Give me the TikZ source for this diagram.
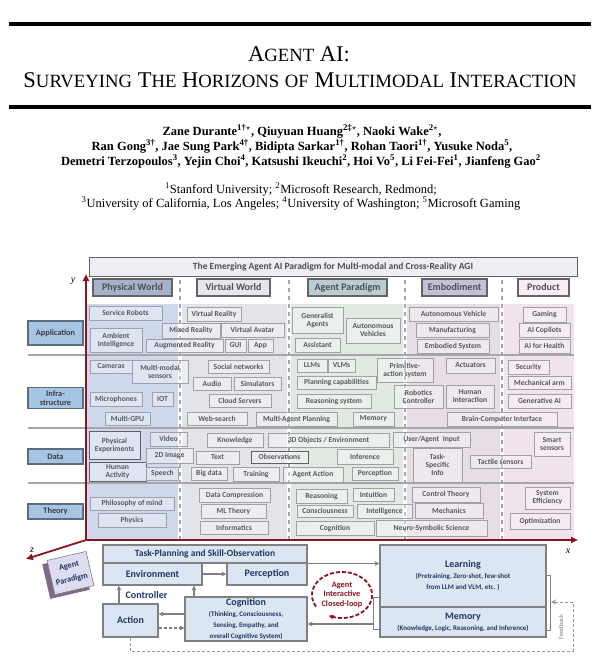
\documentclass[tikz,border=0pt]{standalone}
\usepackage{fontspec}
\setmainfont{Liberation Serif}
\newfontfamily\figfont{Carlito}
\usetikzlibrary{arrows.meta,positioning,calc}
\definecolor{axisred}{RGB}{140,20,30}
\definecolor{itmline}{RGB}{160,160,166}
\definecolor{dkline}{RGB}{95,95,100}
\definecolor{itmtext}{RGB}{88,88,94}
\definecolor{physbg}{RGB}{205,216,236}
\definecolor{virtbg}{RGB}{226,228,234}
\definecolor{agentbg}{RGB}{224,233,226}
\definecolor{embodbg}{RGB}{231,222,229}
\definecolor{prodbg}{RGB}{240,227,235}
\definecolor{rowblue}{RGB}{166,196,228}
\definecolor{rowline}{RGB}{95,108,125}
\definecolor{labtext}{RGB}{60,60,66}
\definecolor{sepgray}{RGB}{165,165,170}
\definecolor{headline}{RGB}{100,100,104}
\definecolor{headtext}{RGB}{78,78,84}
\definecolor{physhead}{RGB}{166,178,201}
\definecolor{virthead}{RGB}{230,231,234}
\definecolor{agenthead}{RGB}{185,205,208}
\definecolor{embodhead}{RGB}{197,193,217}
\definecolor{prodhead}{RGB}{247,238,244}
\definecolor{barfill}{RGB}{236,238,244}
\definecolor{navy}{RGB}{31,56,100}
\definecolor{panelfill}{RGB}{220,230,242}
\definecolor{panelline}{RGB}{128,128,128}
\definecolor{apfront}{RGB}{222,220,240}
\definecolor{apside}{RGB}{125,105,135}

\newcommand{\tsc}[1]{{\fontsize{18.7}{22}\selectfont #1}}
\newcommand{\subfnt}{\fontsize{7}{8.6}\selectfont}

\tikzset{
    sz/.style 2 args={minimum width=#1pt, minimum height=#2pt},
}

\begin{document}
\begin{tikzpicture}[
    x=1pt, y=-1pt,
    >={Stealth[length=5pt,width=5pt]},
    itm/.style={draw=itmline, line width=0.8pt, fill=white, fill opacity=0.35, text opacity=1,
        text=itmtext, font=\figfont\bfseries\fontsize{7.6}{8}\selectfont, align=center, inner sep=0pt},
    dkitm/.style={itm, draw=dkline, line width=1pt},
    rowlab/.style={draw=rowline, line width=1.2pt, fill=rowblue, text=labtext,
        font=\figfont\bfseries\fontsize{8.3}{9}\selectfont, align=center, minimum width=55pt, inner sep=0pt},
    head/.style={draw=headline, line width=1.3pt, text=headtext,
        font=\figfont\bfseries\fontsize{10}{12}\selectfont, minimum height=17pt, inner sep=0pt},
    rowsep/.style={draw=sepgray, line width=2.5pt},
    colsep/.style={draw=sepgray, line width=1.3pt, dash pattern=on 4pt off 4pt},
    axis/.style={draw=axisred, line width=1.8pt, -{Triangle[length=7pt,width=6pt]}},
    axlab/.style={font=\itshape\fontsize{10}{12}\selectfont},
    author/.style={anchor=base, font=\bfseries\fontsize{12.5}{15}\selectfont},
    affil/.style={anchor=base, font=\fontsize{12.5}{15}\selectfont},
    pbox/.style={draw=panelline, line width=1.2pt, fill=panelfill, text=navy,
        font=\figfont\bfseries\fontsize{10}{11}\selectfont, align=center, inner sep=0pt},
    parr/.style={draw=panelline, line width=1.3pt, ->},
    pline/.style={draw=panelline, line width=1.1pt},
    fbk/.style={draw=panelline!80, line width=1pt, dash pattern=on 3pt off 2pt},
    loopc/.style={draw=axisred, line width=1.8pt, dash pattern=on 4pt off 2pt, -{Stealth[length=5pt,width=5pt]}},
]
\useasboundingbox (0,0) rectangle (598,665);

% paper head
\draw[line width=3.3pt] (9,24) -- (591,24);
\draw[line width=3.3pt] (9,107) -- (591,107);
\node[font=\fontsize{22.5}{26}\selectfont] (title1) at (299,54.5) {A\tsc{GENT} AI:};
\node[font=\fontsize{22.5}{26}\selectfont] (title2) at (300,80) {S\tsc{URVEYING} T\tsc{HE} H\tsc{ORIZONS} \tsc{OF} M\tsc{ULTIMODAL} I\tsc{NTERACTION}};
\node[author] (authA) at (302,135)
    {Zane Durante\textsuperscript{1†$\star$}, Qiuyuan Huang\textsuperscript{2‡$\star$}, Naoki Wake\textsuperscript{2$\star$},};
\node[author] (authB) at (302,150)
    {Ran Gong\textsuperscript{3†}, Jae Sung Park\textsuperscript{4†}, Bidipta Sarkar\textsuperscript{1†}, Rohan Taori\textsuperscript{1†}, Yusuke Noda\textsuperscript{5},};
\node[author] (authC) at (301,165)
    {Demetri Terzopoulos\textsuperscript{3}, Yejin Choi\textsuperscript{4}, Katsushi Ikeuchi\textsuperscript{2}, Hoi Vo\textsuperscript{5}, Li Fei-Fei\textsuperscript{1}, Jianfeng Gao\textsuperscript{2}};
\node[affil] (affA) at (301,193)
    {\textsuperscript{1}Stanford University; \textsuperscript{2}Microsoft Research, Redmond;};
\node[affil] (affB) at (301,207)
    {\textsuperscript{3}University of California, Los Angeles; \textsuperscript{4}University of Washington; \textsuperscript{5}Microsoft Gaming};

% column backgrounds
\fill[physbg] (87,304) rectangle (178,539);
\fill[virtbg] (182,304) rectangle (287,539);
\fill[agentbg] (291,304) rectangle (403,539);
\fill[embodbg] (407,304) rectangle (500,539);
\fill[prodbg] (504,304) rectangle (574,539);
\draw[rowsep] (28,355) -- (574,355);
\draw[rowsep] (28,428) -- (574,428);
\draw[rowsep] (28,483) -- (574,483);
\foreach \cx in {180,289,405,502} {
    \draw[colsep] (\cx,280) -- (\cx,539);
}

% title bar and headers
\node[draw=headline, line width=1pt, fill=barfill, sz={488}{19}, text=headtext,
    font=\figfont\bfseries\fontsize{9.5}{11}\selectfont] (bar) at (333,266.5)
    {The Emerging Agent AI Paradigm for Multi-modal and Cross-Reality AGI};
\node[head, fill=physhead, minimum width=79pt] (hphys) at (132.5,287.5) {Physical World};
\node[head, fill=virthead, minimum width=73pt] (hvirt) at (233.5,287.5) {Virtual World};
\node[head, fill=agenthead, minimum width=79pt] (hagent) at (347.5,287.5) {Agent Paradigm};
\node[head, fill=embodhead, minimum width=65pt] (hembod) at (454.5,287.5) {Embodiment};
\node[head, fill=prodhead, minimum width=51pt] (hprod) at (543.5,287.5) {Product};

% row labels
\node[rowlab, minimum height=24pt] (lapp) at (55.5,333) {Application};
\node[rowlab, minimum height=21pt] (linfra) at (55.5,398) {Infra-\\structure};
\node[rowlab, minimum height=15pt] (ldata) at (55.5,456.5) {Data};
\node[rowlab, minimum height=15pt] (ltheory) at (55.5,511.5) {Theory};

% application
\node[itm, sz={73}{14}] (robots) at (125.5,313) {Service Robots};
\node[itm, sz={52}{24}] (ambient) at (116,340) {Ambient\\Intelligence};
\node[itm, sz={54}{14}] (vr) at (214,314) {Virtual Reality};
\node[itm, sz={58}{15}] (mixed) at (191,330.5) {Mixed Reality};
\node[itm, sz={63}{14}] (avatar) at (252.5,330) {Virtual Avatar};
\node[itm, sz={77}{13}] (augmented) at (184.5,345.5) {Augmented Reality};
\node[itm, sz={21}{13}] (gui) at (235.5,345.5) {GUI};
\node[itm, sz={25}{13}] (app) at (260.5,345.5) {App};
\node[itm, sz={51}{26}] (generalist) at (317.5,320) {Generalist\\Agents};
\node[itm, sz={54}{25}] (autoveh) at (373,330.5) {Autonomous\\Vehicles};
\node[itm, sz={45}{14}] (assistant) at (317.5,345) {Assistant};
\node[itm, sz={89}{14}] (vehicle) at (453.5,314) {Autonomous Vehicle};
\node[itm, sz={73}{14}] (manufact) at (452.5,330) {Manufacturing};
\node[itm, sz={72}{14}] (embodied) at (453,346) {Embodied System};
\node[itm, sz={43}{15}] (gaming) at (544.5,314.5) {Gaming};
\node[itm, sz={51}{14}] (copilots) at (544.5,330) {AI Copilots};
\node[itm, sz={51}{14}] (health) at (544.5,346) {AI for Health};

% infrastructure
\node[itm, sz={42}{13}] (cameras) at (111,366.5) {Cameras};
\node[itm, sz={56}{23}] (mmsensors) at (160,371.5) {Multi-modal\\sensors};
\node[itm, sz={52}{14}] (micro) at (116,399) {Microphones};
\node[itm, sz={21}{14}] (iot) at (162.5,399) {IOT};
\node[itm, sz={45}{13}] (gpu) at (127.5,418.5) {Multi-GPU};
\node[itm, sz={61}{13}] (social) at (238.5,366.5) {Social networks};
\node[itm, sz={38}{13}] (audio) at (212,383.5) {Audio};
\node[itm, sz={47}{13}] (simul) at (257.5,383.5) {Simulators};
\node[itm, sz={62}{13}] (cloud) at (240,400.5) {Cloud Servers};
\node[itm, sz={60}{13}] (websearch) at (217,418.5) {Web-search};
\node[itm, sz={81}{14}] (multiagent) at (296.5,419) {Multi-Agent Planning};
\node[itm, sz={41}{14}] (memory) at (373.5,419) {Memory};
\node[itm, sz={30}{13}] (llms) at (312,365.5) {LLMs};
\node[itm, sz={27}{13}] (vlms) at (341.5,365.5) {VLMs};
\node[itm, sz={56}{24}] (primitive) at (405,370) {Primitive-\\action system};
\node[itm, sz={79}{13}] (planning) at (336.5,382.5) {Planning capabilities};
\node[itm, sz={74}{14}] (reasonsys) at (334,401) {Reasoning system};
\node[itm, sz={49}{15}] (actuators) at (470.5,365.5) {Actuators};
\node[itm, sz={49}{23}] (robotics) at (418.5,396.5) {Robotics\\Controller};
\node[itm, sz={48}{23}] (humanint) at (470,396.5) {Human\\Interaction};
\node[itm, sz={110}{14}] (bci) at (502,419) {Brain-Computer Interface};
\node[itm, sz={41}{14}] (security) at (528.5,367) {Security};
\node[itm, sz={63}{13}] (mecharm) at (539.5,382.5) {Mechanical arm};
\node[itm, sz={63}{14}] (genai) at (539.5,401) {Generative AI};

% data
\node[dkitm, sz={51}{28}] (physexp) at (114.5,445) {Physical\\Experiments};
\node[dkitm, sz={57}{19}] (humanact) at (117.5,471.5) {Human\\Activity};
\node[itm, sz={37}{14}] (video) at (168.5,439) {Video};
\node[itm, sz={47}{15}] (img2d) at (169.5,455.5) {2D Image};
\node[itm, sz={32}{13}] (speech) at (162.5,473.5) {Speech};
\node[itm, sz={56}{14}] (knowledge) at (235,440) {Knowledge};
\node[itm, sz={121}{14}] (objects) at (328.5,440) {3D Objects / Environment};
\node[itm, sz={43}{13}] (text) at (217.5,457.5) {Text};
\node[dkitm, sz={57}{12}] (observ) at (279.5,457) {Observations};
\node[itm, sz={56}{15}] (inference) at (365,456.5) {Inference};
\node[itm, sz={36}{13}] (bigdata) at (209,473.5) {Big data};
\node[itm, sz={46}{14}] (training) at (256,474) {Training};
\node[itm, sz={60}{15}] (agentact) at (313,474.5) {Agent Action};
\node[itm, sz={46}{13}] (percep) at (375,473.5) {Perception};
\node[itm, sz={77}{15}] (userinput) at (431.5,439.5) {User/Agent\ \ Input};
\node[itm, sz={49}{34}] (taskinfo) at (437.5,465) {Task-\\Specific\\Info};
\node[itm, sz={61}{13}] (tactile) at (500.5,461.5) {Tactile sensors};
\node[itm, sz={36}{24}] (smart) at (552,444) {Smart\\sensors};

% theory
\node[itm, sz={84}{13}] (philosophy) at (132,503.5) {Philosophy of mind};
\node[itm, sz={68}{14}] (physics) at (132,520) {Physics};
\node[itm, sz={71}{14}] (datacomp) at (234.5,495) {Data Compression};
\node[itm, sz={65}{14}] (mltheory) at (233.5,511) {ML Theory};
\node[itm, sz={68}{13}] (informatics) at (234,527.5) {Informatics};
\node[itm, sz={51}{14}] (reasoning) at (321.5,496) {Reasoning};
\node[itm, sz={41}{13}] (intuition) at (373.5,494.5) {Intuition};
\node[itm, sz={56}{12}] (conscious) at (325,511) {Consciousness};
\node[itm, sz={55}{14}] (intelligence) at (384.5,511) {Intelligence};
\node[itm, sz={78}{14}] (cognition) at (335,528) {Cognition};
\node[itm, sz={111}{16}] (neurosym) at (431.5,528) {Neuro-Symbolic Science};
\node[itm, sz={68}{15}] (control) at (446,494.5) {Control Theory};
\node[itm, sz={68}{15}] (mechanics) at (449,510.5) {Mechanics};
\node[itm, sz={45}{22}] (syseff) at (547.5,498) {System\\Efficiency};
\node[itm, sz={60}{16}] (optim) at (540,521) {Optimization};

% axes
\coordinate (origin) at (86,540);
\coordinate (xtip) at (578,540);
\coordinate (ytip) at (86,274);
\coordinate (ztip) at (26,559);
\draw[axis] (origin) -- (xtip);
\draw[axis] (origin) -- (ytip);
\draw[axis] (origin) -- (ztip);
\node[axlab] (xlab) at (568,551) {x};
\node[axlab] (ylab) at (73,281) {y};
\node[axlab] (zlab) at (32,550) {z};

% agent paradigm block
\node[draw=apside, fill=apside, rotate=13, sz={40}{35}] (apback) at (66,577) {};
\node[draw=panelline, line width=0.6pt, fill=apfront, rotate=13, sz={40}{35}, text=navy, align=center,
    font=\figfont\bfseries\fontsize{8.3}{13.5}\selectfont, inner sep=0pt] (apblock) at (70.5,573) {Agent\\Paradigm};

% agent interaction panel
\node[pbox, sz={204}{18}, font=\figfont\bfseries\fontsize{9.5}{11}\selectfont] (task) at (205,554) {Task-Planning and Skill-Observation};
\node[pbox, sz={99}{22}] (env) at (152.5,574) {Environment};
\node[pbox, sz={80}{22}] (perc) at (267,574) {Perception};
\node[pbox, sz={55}{33}] (action) at (130.5,620.5) {Action};
\node[pbox, sz={122}{44}] (cog) at (246,619) {Cognition\\\subfnt(Thinking, Consciousness,\\\subfnt Sensing, Empathy, and\\\subfnt overall Cognitive System)};
\node[pbox, sz={166}{62}] (learn) at (463,576) {Learning\\\subfnt(Pretraining, Zero-shot, few-shot\\\subfnt from LLM and VLM, etc. )};
\node[pbox, sz={166}{30}] (mem) at (463,622) {Memory\\\subfnt(Knowledge, Logic, Reasoning, and Inference)};

\draw[parr] (env) -- (perc);
\draw[parr] ([xshift=-11.5pt]action.north) -- ([xshift=-11.5pt]action.north |- env.south);
\draw[parr] ([xshift=-52pt]cog.north) -- ([xshift=-52pt]cog.north |- env.south);
\node[text=navy, font=\figfont\bfseries\fontsize{10}{11}\selectfont] (ctrl) at (146.5,595.5) {Controller};
\draw[parr] ([yshift=5pt]cog.west) -- ([yshift=5pt]cog.west -| action.east);
\draw[parr, dash pattern=on 3pt off 2pt] ([yshift=-7.5pt]action.east) -- ([yshift=-7.5pt]action.east -| cog.west);
\draw[parr] (task.south east) -- (task.south east -| learn.west);

% memory bracket and feedback
\coordinate (membr) at (374,624);
\draw[pline] ([yshift=9pt]mem.north west) -- ++(-6,0) -- ++(0,32) -- ++(6,0);
\draw[parr] (membr) -- (membr -| cog.east);
\draw[pline] ([yshift=-31pt]learn.north east) -- ++(4,0) -- ++(0,55) -- ++(-4,0);
\coordinate (fbcorner) at (573,651);
\coordinate (fbend) at (551,602);
\draw[fbk, ->] (action.south) |- (fbcorner) |- (fbend);
\node[rotate=90, text=panelline, font=\figfont\fontsize{6.5}{7}\selectfont] (fblab) at (561,627) {Feedback};

% closed loop
\draw[loopc] plot[domain=150:476, samples=80] ({342+30*cos(\x)},{595+23*sin(\x)});
\node[text=axisred, align=center, font=\figfont\bfseries\fontsize{8.3}{9.5}\selectfont] (loop) at (342,594.5) {Agent\\Interactive\\Closed-loop};
\end{tikzpicture}
\end{document}
